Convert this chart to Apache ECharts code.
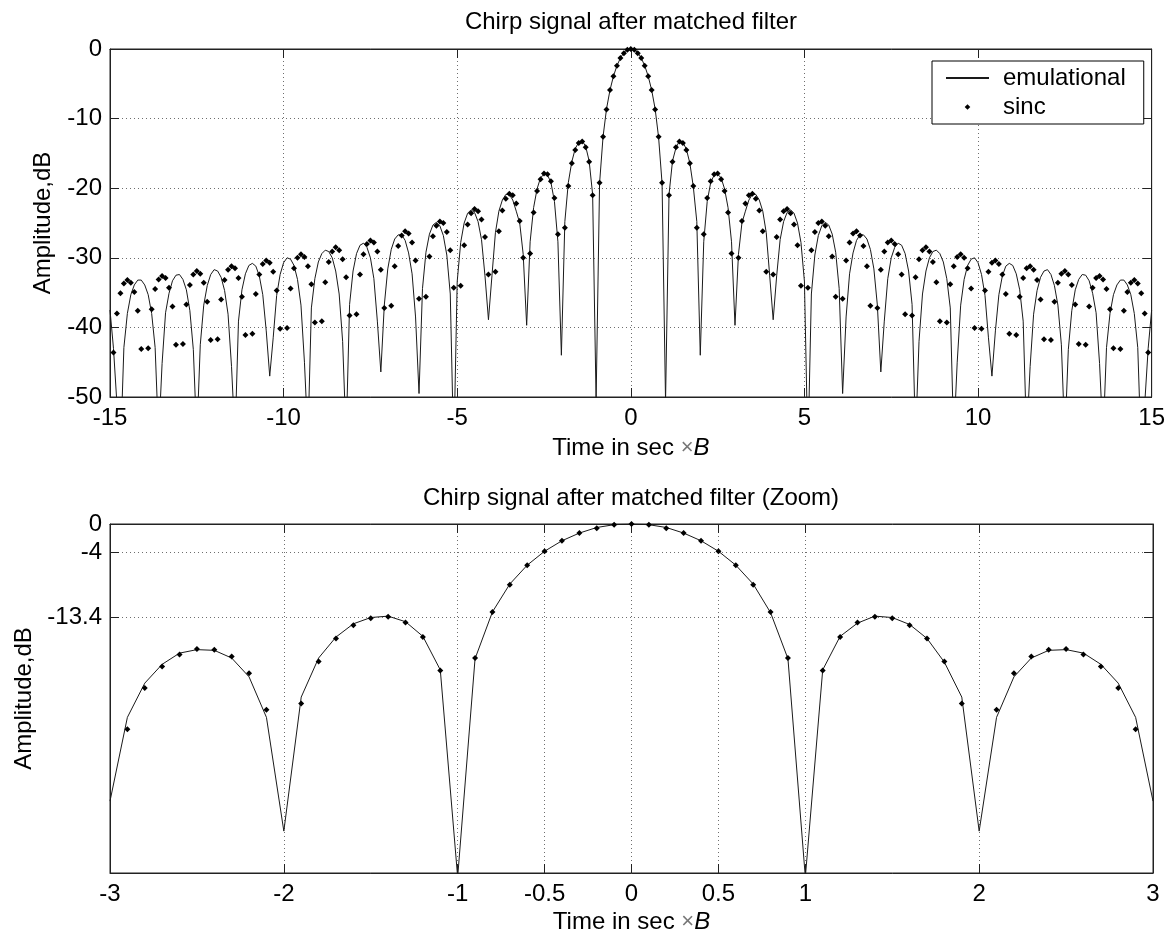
<!DOCTYPE html>
<html>
<head>
<meta charset="utf-8">
<script src="https://cdn.jsdelivr.net/npm/echarts@6/dist/echarts.min.js"></script>
<style>
html,body{margin:0;padding:0;background:#fff;}
#chart{width:1168px;height:935px;}
</style>
</head>
<body>
<div id="chart"></div>
<script>
// ---------------- DATA ----------------
// Samples are on a uniform time grid: x = X_START + i * X_STEP  (Time in sec x B)
const X_START = -15;
const X_STEP = 0.1;

// "emulational" curve, dB, x = -15.0 ... 15.0
const emulDb = [
  -37.5,-43.0,-51.0,-58,-42.9,-38.0,-35.3,-33.9,-33.2,-33.2,
  -33.9,-35.3,-38.0,-42.9,-56,-45.2,-37.9,-35.1,-33.3,-32.5,
  -32.4,-33.1,-34.6,-37.6,-43.2,-56,-42.5,-36.8,-34.0,-32.4,
  -31.7,-31.9,-32.8,-34.7,-38.1,-45.6,-56,-39.1,-34.6,-32.3,
  -31.1,-30.8,-31.2,-32.6,-35.3,-40.5,-47.0,-41.5,-35.4,-32.4,
  -30.7,-30.0,-30.2,-31.1,-33.1,-36.8,-45.0,-56,-37.2,-33.0,
  -30.6,-29.4,-28.9,-29.1,-30.0,-31.9,-35.2,-42.0,-56,-36.7,
  -31.9,-29.4,-28.2,-27.9,-28.5,-30.0,-33.0,-39.1,-46.4,-36.8,
  -31.6,-28.8,-27.3,-26.7,-26.7,-27.5,-29.3,-32.3,-38.5,-49.5,
  -34.4,-29.2,-26.6,-25.3,-24.9,-25.4,-26.8,-29.6,-35.2,-58,
  -33.4,-27.8,-25.0,-23.6,-23.1,-23.5,-24.8,-27.4,-32.6,-38.9,
  -32.6,-26.4,-23.3,-21.7,-20.9,-20.9,-21.7,-23.3,-25.0,-29.5,
  -39.7,-27.7,-22.8,-20.1,-18.5,-18.0,-18.1,-19.2,-21.9,-27.7,
  -44.0,-24.8,-19.2,-16.2,-14.3,-13.4,-13.2,-14.0,-16.1,-20.9,
  -50.6,-19.3,-12.6,-8.6,-5.9,-3.9,-2.4,-1.3,-0.5,-0.1,
  0,
  -0.1,-0.5,-1.3,-2.4,-3.9,-5.9,-8.6,-12.7,-19.3,-50.6,
  -20.9,-16.1,-14.2,-13.2,-13.4,-14.4,-16.4,-19.8,-24.8,-44.0,
  -27.7,-21.9,-19.2,-18.1,-18.0,-18.5,-20.1,-22.8,-27.7,-39.7,
  -29.5,-25.0,-23.3,-21.7,-20.9,-20.9,-21.7,-23.3,-26.4,-32.6,
  -38.9,-32.6,-27.4,-24.8,-23.5,-23.1,-23.6,-25.0,-27.8,-33.4,
  -58,-35.2,-29.6,-26.8,-25.4,-24.9,-25.3,-26.6,-29.2,-34.4,
  -49.5,-38.5,-32.3,-29.3,-27.5,-26.7,-26.7,-27.3,-28.8,-31.6,
  -36.8,-46.4,-39.1,-33.0,-30.0,-28.5,-27.9,-28.2,-29.4,-31.9,
  -36.7,-56,-42.0,-35.2,-31.9,-30.0,-29.1,-28.9,-29.4,-30.6,
  -33.0,-37.2,-56,-45.0,-36.8,-33.1,-31.1,-30.2,-30.0,-30.7,
  -32.4,-35.4,-41.5,-47.0,-40.5,-35.3,-32.6,-31.2,-30.8,-31.1,
  -32.3,-34.6,-39.1,-56,-45.6,-38.1,-34.7,-32.8,-31.9,-31.7,
  -32.4,-34.0,-36.8,-42.5,-56,-43.2,-37.6,-34.6,-33.1,-32.4,
  -32.5,-33.3,-35.1,-37.9,-45.2,-56,-42.9,-38.0,-35.3,-33.9,
  -33.2,-33.2,-33.9,-35.3,-38.0,-42.9,-58,-51.0,-43.0,-37.5
];

// "sinc" reference points, dB, x = -15.0 ... 15.0 (null where the value is -inf)
const sincDb = [
  null,-43.6,-38.0,-35.1,-33.7,-33.2,-33.6,-34.9,-37.6,-43.1,
  null,-43.0,-37.4,-34.5,-33.1,-32.6,-32.9,-34.3,-37.0,-42.5,
  null,-42.4,-36.7,-33.9,-32.4,-31.9,-32.3,-33.6,-36.3,-41.8,
  null,-41.7,-36.0,-33.2,-31.7,-31.2,-31.5,-32.9,-35.6,-41.1,
  null,-40.9,-35.2,-32.4,-30.9,-30.4,-30.7,-32.0,-34.7,-40.2,
  null,-40.1,-34.4,-31.5,-30.0,-29.5,-29.9,-31.2,-33.8,-39.3,
  null,-39.1,-33.5,-30.6,-29.1,-28.5,-28.9,-30.2,-32.8,-38.3,
  null,-38.1,-32.4,-29.5,-28.0,-27.5,-27.8,-29.1,-31.7,-37.2,
  null,-36.9,-31.2,-28.3,-26.8,-26.2,-26.5,-27.8,-30.4,-35.9,
  null,-35.6,-29.8,-26.9,-25.4,-24.8,-25.0,-26.3,-28.9,-34.3,
  null,-34.0,-28.2,-25.2,-23.6,-23.0,-23.3,-24.5,-27.0,-32.4,
  null,-32.0,-26.2,-23.2,-21.5,-20.8,-21.0,-22.2,-24.7,-30.0,
  null,-29.4,-23.5,-20.4,-18.7,-17.9,-18.0,-19.0,-21.4,-26.6,
  null,-25.7,-19.7,-16.4,-14.5,-13.5,-13.3,-14.1,-16.2,-21.0,
  null,-19.2,-12.6,-8.7,-5.9,-3.9,-2.4,-1.3,-0.6,-0.1,
  0,
  -0.1,-0.6,-1.3,-2.4,-3.9,-5.9,-8.7,-12.6,-19.2,null,
  -21.0,-16.2,-14.1,-13.3,-13.5,-14.5,-16.4,-19.7,-25.7,null,
  -26.6,-21.4,-19.0,-18.0,-17.9,-18.7,-20.4,-23.5,-29.4,null,
  -30.0,-24.7,-22.2,-21.0,-20.8,-21.5,-23.2,-26.2,-32.0,null,
  -32.4,-27.0,-24.5,-23.3,-23.0,-23.6,-25.2,-28.2,-34.0,null,
  -34.3,-28.9,-26.3,-25.0,-24.8,-25.4,-26.9,-29.8,-35.6,null,
  -35.9,-30.4,-27.8,-26.5,-26.2,-26.8,-28.3,-31.2,-36.9,null,
  -37.2,-31.7,-29.1,-27.8,-27.5,-28.0,-29.5,-32.4,-38.1,null,
  -38.3,-32.8,-30.2,-28.9,-28.5,-29.1,-30.6,-33.5,-39.1,null,
  -39.3,-33.8,-31.2,-29.9,-29.5,-30.0,-31.5,-34.4,-40.1,null,
  -40.2,-34.7,-32.0,-30.7,-30.4,-30.9,-32.4,-35.2,-40.9,null,
  -41.1,-35.6,-32.9,-31.5,-31.2,-31.7,-33.2,-36.0,-41.7,null,
  -41.8,-36.3,-33.6,-32.3,-31.9,-32.4,-33.9,-36.7,-42.4,null,
  -42.5,-37.0,-34.3,-32.9,-32.6,-33.1,-34.5,-37.4,-43.0,null,
  -43.1,-37.6,-34.9,-33.6,-33.2,-33.7,-35.1,-38.0,-43.6,null
];

const seriesNames = ['emulational', 'sinc'];
const titles = ['Chirp signal after matched filter', 'Chirp signal after matched filter (Zoom)'];
const yName = 'Amplitude,dB';

// full view axis
const fullX = { min: -15, max: 15, interval: 5 };
const fullY = { min: -50, max: 0, interval: 10 };
// zoom view axis
const zoomX = { min: -3, max: 3 };
const zoomXTicks = [-3, -2, -1, -0.5, 0, 0.5, 1, 2, 3];
const zoomY = { min: -50, max: 0 };
const zoomYTicks = [-50, -13.4, -4, 0];
const zoomYLabels = [-13.4, -4, 0];

// ---------------- BUILD ----------------
const toPoints = arr => arr.map((v, i) => [Math.round((X_START + i * X_STEP) * 10) / 10, v]);
const emulPts = toPoints(emulDb);
const sincPts = toPoints(sincDb);
const inZoom = p => p[0] >= zoomX.min - 1e-9 && p[0] <= zoomX.max + 1e-9;
const emulZoom = emulPts.filter(inZoom);
const sincZoom = sincPts.filter(inZoom);

const FONT = '"Liberation Sans", Arial, Helvetica, sans-serif';
const AX = '#222';
const axisLine = { show: true, onZero: false, lineStyle: { color: AX, width: 1 } };
const tick = { show: true, inside: true, length: 9, lineStyle: { color: AX, width: 1 } };
const label = { color: '#000', fontSize: 24, fontFamily: FONT };
const grid = { show: true, lineStyle: { color: '#6e6e6e', width: 1, type: [1, 3] } };
const xName = '{t|Time in sec }{x|\u00d7}{b|B}';
const xNameStyle = {
  color: '#000', fontSize: 24, fontFamily: FONT,
  rich: {
    t: { fontSize: 24, fontFamily: FONT, color: '#000' },
    x: { fontSize: 22, fontFamily: FONT, color: '#777' },
    b: { fontSize: 24, fontFamily: FONT, fontStyle: 'italic', color: '#000' }
  }
};

const chart = echarts.init(document.getElementById('chart'), null, { renderer: 'canvas' });

const option = {
  animation: false,
  backgroundColor: '#fff',
  title: [
    { text: titles[0], left: 631, top: 10, padding: 0, textAlign: 'center',
      textStyle: { fontSize: 24, fontWeight: 'normal', color: '#000', fontFamily: FONT } },
    { text: titles[1], left: 631, top: 486, padding: 0, textAlign: 'center',
      textStyle: { fontSize: 24, fontWeight: 'normal', color: '#000', fontFamily: FONT } }
  ],
  legend: {
    data: seriesNames,
    orient: 'vertical',
    left: 932, top: 61,
    padding: [5, 18, 5, 13],
    itemWidth: 43, itemHeight: 7, itemGap: 5,
    backgroundColor: '#fff',
    borderColor: '#000', borderWidth: 1, borderRadius: 0,
    textStyle: { fontSize: 24, color: '#000', fontFamily: FONT, padding: [0, 0, 0, 9] },
    selectedMode: false
  },
  grid: [
    { left: 110, right: 15, top: 49, height: 348, show: true, borderColor: AX, borderWidth: 1, containLabel: false },
    { left: 110, right: 15, top: 524, height: 349, show: true, borderColor: AX, borderWidth: 1, containLabel: false }
  ],
  xAxis: [
    { type: 'value', gridIndex: 0, position: 'bottom', min: fullX.min, max: fullX.max, interval: fullX.interval,
      axisLine, axisTick: tick, axisLabel: Object.assign({ margin: 9 }, label), splitLine: grid,
      name: xName, nameLocation: 'middle', nameGap: 39, nameTextStyle: xNameStyle },
    { type: 'value', gridIndex: 0, position: 'top', min: fullX.min, max: fullX.max, interval: fullX.interval,
      axisLine, axisTick: tick, axisLabel: { show: false }, splitLine: { show: false } },
    { type: 'value', gridIndex: 1, position: 'bottom', min: zoomX.min, max: zoomX.max,
      axisLine, axisTick: Object.assign({ customValues: zoomXTicks }, tick),
      axisLabel: Object.assign({ margin: 9, customValues: zoomXTicks }, label), splitLine: grid,
      name: xName, nameLocation: 'middle', nameGap: 37, nameTextStyle: xNameStyle },
    { type: 'value', gridIndex: 1, position: 'top', min: zoomX.min, max: zoomX.max,
      axisLine, axisTick: Object.assign({ customValues: zoomXTicks }, tick),
      axisLabel: { show: false }, splitLine: { show: false } }
  ],
  yAxis: [
    { type: 'value', gridIndex: 0, position: 'left', min: fullY.min, max: fullY.max, interval: fullY.interval,
      axisLine, axisTick: tick, axisLabel: Object.assign({ margin: 8 }, label), splitLine: grid,
      name: yName, nameLocation: 'middle', nameGap: 55,
      nameTextStyle: { fontSize: 24, color: '#000', fontFamily: FONT } },
    { type: 'value', gridIndex: 0, position: 'right', min: fullY.min, max: fullY.max, interval: fullY.interval,
      axisLine, axisTick: tick, axisLabel: { show: false }, splitLine: { show: false } },
    { type: 'value', gridIndex: 1, position: 'left', min: zoomY.min, max: zoomY.max,
      axisLine, axisTick: Object.assign({ customValues: zoomYTicks }, tick),
      axisLabel: Object.assign({ margin: 8, customValues: zoomYLabels }, label), splitLine: grid,
      name: yName, nameLocation: 'middle', nameGap: 74,
      nameTextStyle: { fontSize: 24, color: '#000', fontFamily: FONT } },
    { type: 'value', gridIndex: 1, position: 'right', min: zoomY.min, max: zoomY.max,
      axisLine, axisTick: Object.assign({ customValues: zoomYTicks }, tick),
      axisLabel: { show: false }, splitLine: { show: false } }
  ],
  series: [
    { name: seriesNames[0], type: 'line', xAxisIndex: 0, yAxisIndex: 0, data: emulPts,
      symbol: 'none', clip: true, lineStyle: { color: '#1a1a1a', width: 1 },
      itemStyle: { color: '#1a1a1a', opacity: 0 }, z: 3 },
    { name: seriesNames[1], type: 'line', xAxisIndex: 0, yAxisIndex: 0, data: sincPts,
      symbol: 'diamond', symbolSize: 6, showSymbol: true, showAllSymbol: true, clip: true,
      lineStyle: { width: 0, opacity: 0 }, itemStyle: { color: '#000' }, z: 4 },
    { name: seriesNames[0], type: 'line', xAxisIndex: 2, yAxisIndex: 2, data: emulZoom,
      symbol: 'none', clip: true, lineStyle: { color: '#1a1a1a', width: 1 },
      itemStyle: { color: '#1a1a1a', opacity: 0 }, z: 3 },
    { name: seriesNames[1], type: 'line', xAxisIndex: 2, yAxisIndex: 2, data: sincZoom,
      symbol: 'diamond', symbolSize: 6, showSymbol: true, showAllSymbol: true, clip: true,
      lineStyle: { width: 0, opacity: 0 }, itemStyle: { color: '#000' }, z: 4 }
  ]
};
chart.setOption(option);
</script>
</body>
</html>
